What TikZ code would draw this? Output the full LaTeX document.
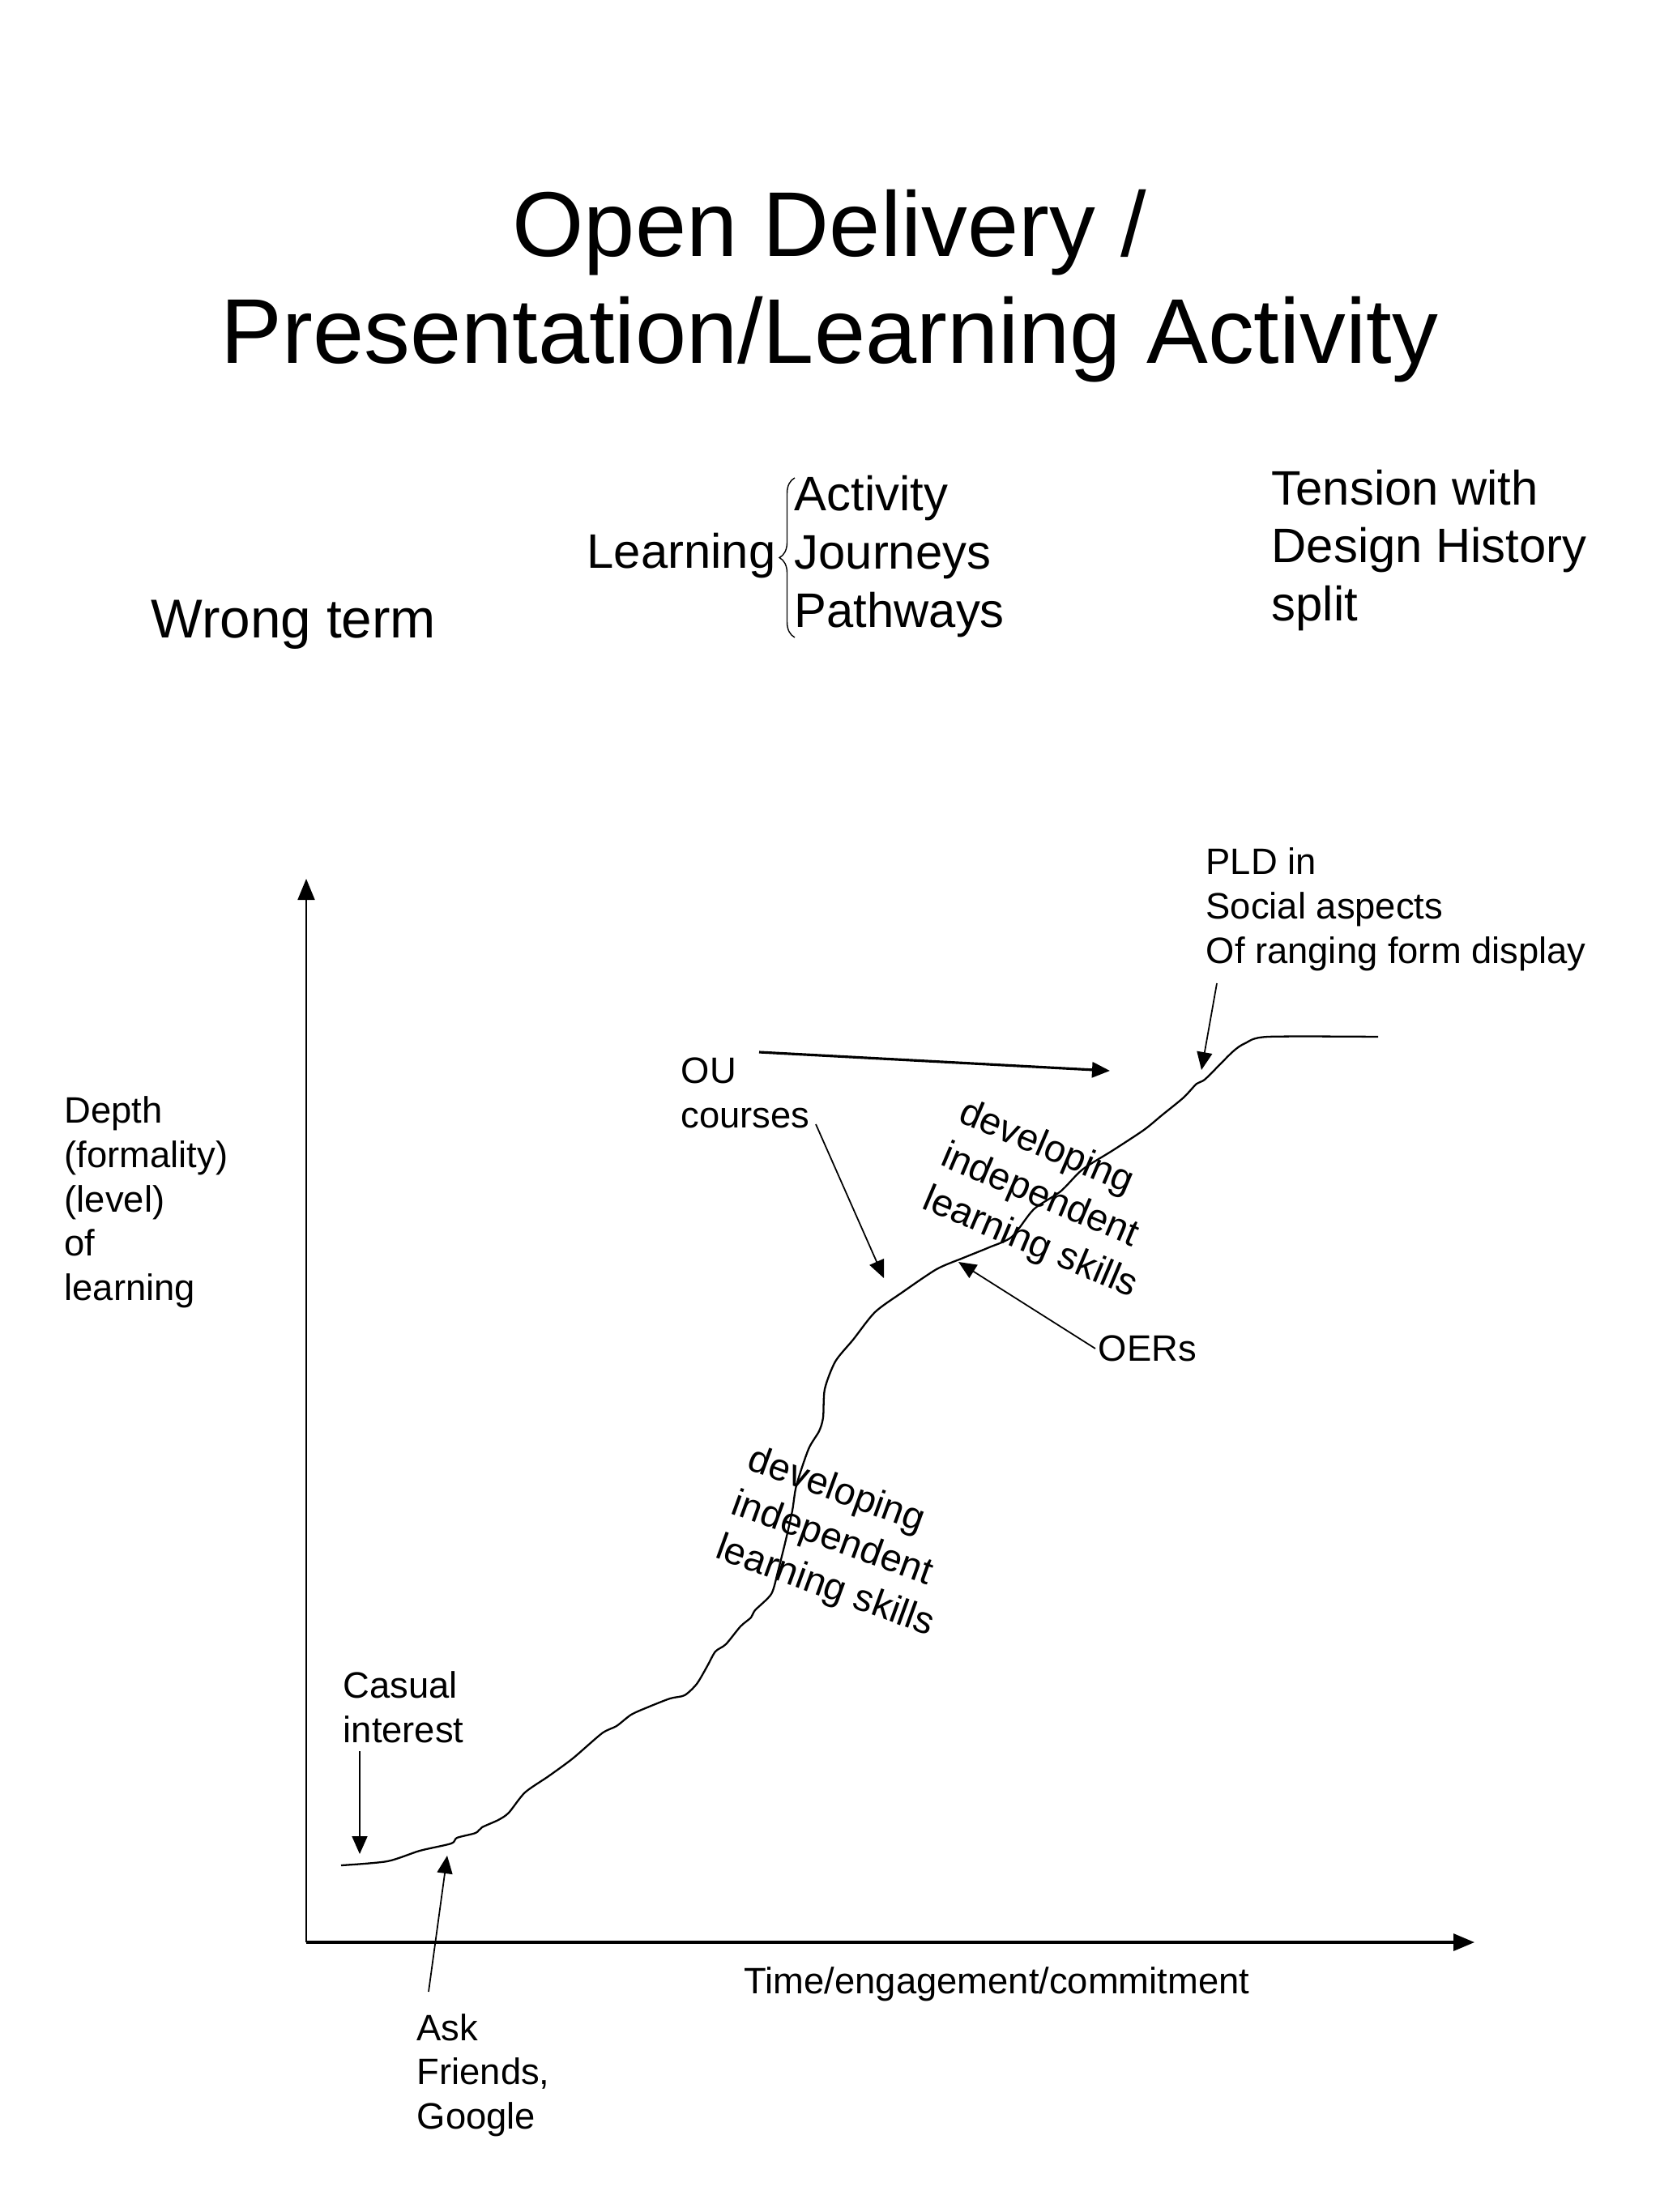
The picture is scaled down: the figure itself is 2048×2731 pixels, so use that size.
\documentclass[tikz,border=0pt]{standalone}
\usepackage{fontspec}
\setmainfont{Liberation Sans}
\usetikzlibrary{arrows.meta, positioning, calc, decorations.pathreplacing}
\tikzset{
  heading/.style={align=center, inner sep=0pt, font=\fontsize{32.3}{37.6}\selectfont},
  bigtext/.style={align=left, inner sep=0pt, font=\fontsize{17}{20.4}\selectfont},
  note/.style={align=left, inner sep=0pt, font=\fontsize{12.9}{15.5}\selectfont},
  skills/.style={align=left, inner sep=0pt, font=\fontsize{13.4}{16.5}\selectfont},
  arrow/.style={-{Triangle[length=0.22cm, width=0.19cm]}, line width=0.5pt},
  axis/.style={-{Triangle[length=0.26cm, width=0.21cm]}},
  journey/.style={line width=0.65pt, line join=round},
}

\begin{document}
\begin{tikzpicture}[x=0.01cm, y=-0.01cm]
        \useasboundingbox (0,0) rectangle (2048,2731);
        % title and remarks (multi-line nodes sit on their last line)
        \node[heading, anchor=base] (title) at (1024,449) {Open Delivery /\\Presentation/Learning Activity};
        \node[bigtext, anchor=base west, font=\fontsize{19.2}{23}\selectfont] (wrong) at (186,787) {Wrong term};
        \node[bigtext, anchor=base west] (learning) at (724,702) {Learning};
        \node[bigtext, anchor=base west] (kinds) at (980,774) {Activity\\Journeys\\Pathways};
        \node[bigtext, anchor=base west, font=\fontsize{17}{20.3}\selectfont] (tension) at (1569,766) {Tension with\\Design History\\split};
        \coordinate (bracetop) at (981,590);
        \coordinate (bracebot) at (981,787);
        \draw[line width=0.4pt, decorate, decoration={brace, amplitude=5.4pt}] (bracebot) -- (bracetop);

        % axes
        \coordinate (origin) at (378,2398);
        \coordinate (ytop) at (378,1085);
        \coordinate (xend) at (1820,2398);
        \draw[axis, line width=0.5pt] (origin) -- (ytop);
        \draw[axis, line width=0.9pt] (origin) -- (xend);
        \node[note, anchor=base west] (depth) at (79,1605) {Depth\\(formality)\\(level)\\of\\learning};
        \node[note, anchor=base west] (time) at (918,2461) {Time/engagement/commitment};

        % the learning journey
        \draw[journey] plot[smooth, tension=0.45] coordinates {
          (421,2303) (478,2298) (518,2285) (557,2276) (564,2269) (587,2263)
          (595,2256) (615,2247) (628,2238) (648,2213) (677,2193) (707,2171)
          (743,2140) (761,2131) (779,2117) (799,2108) (827,2097) (845,2093)
          (860,2079) (873,2057) (883,2039) (896,2030) (914,2008) (927,1997)
          (932,1988) (952,1968) (960,1941) (970,1901) (978,1865) (983,1834)
          (998,1789) (1011,1767) (1016,1750) (1018,1715) (1031,1681) (1053,1654)
          (1080,1620) (1113,1596) (1156,1567) (1189,1553) (1221,1540) (1249,1527)
          (1276,1493) (1309,1471) (1336,1444) (1374,1420) (1412,1395) (1434,1377)
          (1461,1355) (1477,1338) (1488,1332) (1521,1299) (1537,1288) (1565,1280)
          (1701,1280)};
        \node[skills, rotate=-20] (skillslow) at (1038,1905) {developing\\independent\\learning skills};
        \node[skills, rotate=-23] (skillshigh) at (1294,1482) {developing\\independent\\learning skills};

        % annotations
        \node[note, anchor=base west] (casual) at (423,2151) {Casual\\interest};
        \node[note, anchor=base west] (ask) at (514,2628) {Ask\\Friends,\\Google};
        \node[note, anchor=base west] (ou) at (840,1392) {OU\\courses};
        \node[note, anchor=base west] (oers) at (1355,1680) {OERs};
        \node[note, anchor=base west] (pld) at (1488,1189) {PLD in\\Social aspects\\Of ranging form display};

        \coordinate (casualtip) at (444,2289);
        \coordinate (asktip) at (552,2291);
        \coordinate (outip) at (1370,1322);
        \coordinate (coursestip) at (1091,1578);
        \coordinate (oerstip) at (1183,1558);
        \coordinate (pldtip) at (1483,1321);

        \draw[arrow] (444,2162) -- (casualtip);
        \draw[arrow] (529,2459) -- (asktip);
        \draw[arrow, line width=0.9pt] (937,1299) -- (outip);
        \draw[arrow] (1007,1388) -- (coursestip);
        \draw[arrow] (1352,1665) -- (oerstip);
        \draw[arrow] (1502,1214) -- (pldtip);
      \end{tikzpicture}
\end{document}
